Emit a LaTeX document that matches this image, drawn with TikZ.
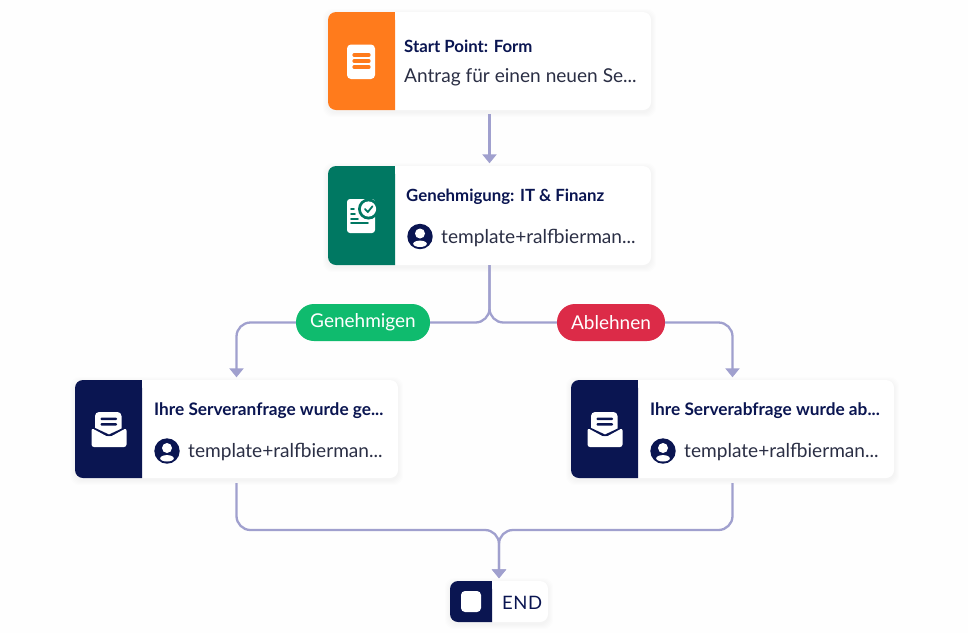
\documentclass[tikz,border=0pt]{standalone}
\usepackage{fontspec}
\setmainfont{Lato}
\usetikzlibrary{arrows.meta}
\definecolor{navy}{HTML}{0A1551}
\definecolor{ink}{HTML}{2B2F45}
\definecolor{orangeP}{HTML}{FF7B1C}
\definecolor{tealP}{HTML}{007862}
\definecolor{linkc}{HTML}{A0A0CE}
\definecolor{greenP}{HTML}{0FBB6E}
\definecolor{redP}{HTML}{DC2B48}
\tikzset{
  x=1pt,y=-1pt,
  cardbox/.style={draw=none,fill=white,rounded corners=8,minimum width=323,minimum height=98,inner sep=0},
  titletxt/.style={anchor=west,inner sep=0,text=navy,font=\fontsize{16.8}{18}\bfseries},
  longtitle/.style={titletxt,font=\fontsize{17.25}{18}\bfseries},
  subtxt/.style={anchor=west,inner sep=0,text=ink,font=\fontsize{19.1}{21}\selectfont},
  pill/.style={rounded corners=18,minimum height=37,inner sep=0,text=white,font=\fontsize{19}{21}\selectfont},
  conn/.style={draw=linkc,line width=2.3,rounded corners=14},
  arrowed/.style={-{Triangle[length=9,width=14]},shorten >=2.5},
  iconw/.style={fill=white,draw=none}
}
\newcommand{\softshadow}[4]{%
  \foreach \g in {5,4,3,2,1}{
    \fill[black,opacity=0.008,rounded corners=9] (#1-\g,#2-\g+2) rectangle (#3+\g,#4+\g+2);
  }}
\newcommand{\panel}[5]{% x1 y1 x2 y2 colour
  \fill[#5,rounded corners=8] (#1,#2) -- (#3,#2) [sharp corners] -- (#3,#4) [rounded corners=8] -- (#1,#4) -- cycle;
  \fill[#5] (#1+10,#2) rectangle (#3,#4);}
\newcommand{\person}[2]{%
  \fill[navy] (#1,#2) circle (12.7);
  \fill[white] (#1,#2-3) circle (5);
  \fill[white] (#1,#2+7.3) ellipse (6.8 and 3.2);}
\newcommand{\mailicon}[2]{%
  \fill[iconw,rounded corners=4] (#1-14,#2-21) rectangle (#1+12.5,#2+4);
  \fill[navy,rounded corners=1] (#1-8.5,#2-15.5) rectangle (#1+8,#2-13);
  \fill[navy,rounded corners=1] (#1-8.5,#2-10) rectangle (#1+8,#2-7.5);
  \fill[navy] (#1-17,#2-6.5) -- (#1,#2+1.5) -- (#1+17,#2-6.5) -- (#1+17,#2+3) -- (#1-17,#2+3) -- cycle;
  \fill[iconw,rounded corners=2.5] (#1-17.5,#2-5) -- (#1,#2+4.5) -- (#1+17.5,#2-5) -- (#1+17.5,#2+14) -- (#1-17.5,#2+14) -- cycle;}
\begin{document}
\begin{tikzpicture}
\useasboundingbox (0,0) rectangle (968,633);
\fill[white!99!linkc] (0,0) rectangle (968,633);

% shadows
\softshadow{328}{12}{651}{110}
\softshadow{328}{166}{651}{265}
\softshadow{75}{380}{398}{478}
\softshadow{571}{380}{894}{478}
\softshadow{450}{581}{548}{622}

% cards
\node[cardbox] (form) at (489.5,61) {};
\node[cardbox,minimum height=99] (appr) at (489.5,215.5) {};
\node[cardbox] (mailA) at (236.5,429) {};
\node[cardbox] (mailB) at (732.5,429) {};
\node[cardbox,minimum width=98,minimum height=41] (endn) at (499,601.5) {};

% colour panels
\panel{328}{12}{395}{110}{orangeP}
\panel{328}{166}{395}{265}{tealP}
\panel{75}{380}{142}{478}{navy}
\panel{571}{380}{638}{478}{navy}
\panel{450}{581}{492}{622}{navy}

% form icon
\fill[iconw,rounded corners=4] (347,44.5) rectangle (375,79);
\foreach \yy in {55,61,67}{\draw[orangeP,line width=3.2,line cap=round] (354,\yy) -- (369,\yy);}

% approval icon
\fill[iconw,rounded corners=3] (347,199) rectangle (375,233);
\fill[tealP] (368.5,209) circle (10.5);
\fill[white] (368.5,209) circle (7.6);
\draw[tealP,line width=1.8,line cap=round,line join=round] (365,209) -- (367.8,212) -- (372.5,206.3);
\foreach \yy/\xx in {209/354,214/355,219/358}{\draw[tealP,line width=1.9,line cap=round] (351,\yy) -- (\xx,\yy);}
\draw[tealP,line width=1.9,line cap=round] (351,223) -- (368,223);

% mail icons
\mailicon{109}{433}
\mailicon{605}{433}

% end icon
\fill[iconw,rounded corners=4] (461,591) rectangle (481,612);

% connectors
\node[pill,fill=greenP,minimum width=134] (yes) at (363,322.5) {Genehmigen};
\node[pill,fill=redP,minimum width=108] (no) at (611,322.5) {Ablehnen};
\coordinate (formOut) at ([yshift=-4]form.south);
\coordinate (mailAOut) at ([yshift=-5]mailA.south);
\coordinate (mailBOut) at ([yshift=-5]mailB.south);
\coordinate (joinP) at (499,530);
\draw[conn,arrowed,rounded corners=0] (formOut) -- (appr.north);
\draw[conn] (appr.south) |- (yes.east);
\draw[conn] (appr.south) |- (no.west);
\draw[conn,arrowed] (yes.west) -| (mailA.north);
\draw[conn,arrowed] (no.east) -| (mailB.north);
\draw[conn,arrowed] (mailAOut) |- (joinP) -- (endn.north);
\draw[conn,arrowed] (mailBOut) |- (joinP) -- (endn.north);

% texts
\node[titletxt] (t1) at (404,46.3) {Start Point: Form};
\node[subtxt] (s1) at (404,77) {Antrag für einen neuen Se...};
\node[titletxt] (t2) at (406,197) {Genehmigung: IT \& Finanz};
\person{420}{236.5}
\node[subtxt] (s2) at (441,238) {template+ralfbierman...};
\node[longtitle] (t3) at (154,410.5) {Ihre Serveranfrage wurde ge...};
\person{167}{451}
\node[subtxt] (s3) at (188,452.3) {template+ralfbierman...};
\node[longtitle] (t4) at (650,410.5) {Ihre Serverabfrage wurde ab...};
\person{663}{451}
\node[subtxt] (s4) at (684,452.3) {template+ralfbierman...};
\node[subtxt,text=navy,font=\fontsize{18.5}{20}\selectfont\addfontfeatures{LetterSpace=3}] (e) at (502,603) {END};
\end{tikzpicture}
\end{document}
